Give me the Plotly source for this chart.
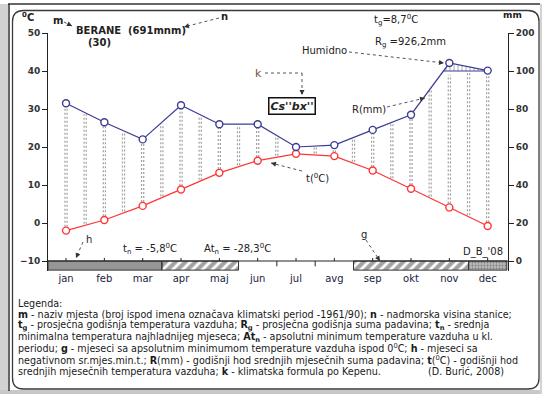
import plotly.graph_objects as go

# ---------------- data ----------------
months = ['jan', 'feb', 'mar', 'apr', 'maj', 'jun', 'jul', 'avg', 'sep', 'okt', 'nov', 'dec']
temp_c = [-2.0, 0.8, 4.5, 8.8, 13.2, 16.4, 18.2, 17.6, 13.8, 9.0, 4.1, -0.8]
precip_mm = [83, 73, 64, 82, 72, 72, 60, 61, 69, 77, 121, 101]
frost_band = ['h', 'h', 'h', 'g', 'g', '', '', '', 'g', 'g', 'g', 'h2']
left_ticks = [-10, 0, 10, 20, 30, 40, 50]
right_tick_text = ['0', '20', '40', '60', '80', '100', '200']

# ---------------- geometry ----------------
W, H = 542, 394
L, R, T, B = 48, 34, 33, 123
PW = W - L - R
PH = H - T - B
XR = [-0.47, 11.53]
YR = [-12.63, 50]
FONT = "DejaVu Sans"
DARK = "#222222"


def px(x):
    return (x - L) / PW


def py(y):
    return (H - B - y) / PH


def mm_to_t(v):
    # Walter-Lieth scale: 20 mm per 10 degC up to 100 mm, compressed above
    return v / 2 - 10 if v <= 100 else 40 + (v - 100) / 10


def interp(arr, x):
    i = int(x)
    f = x - i
    if i >= len(arr) - 1:
        return arr[-1]
    return arr[i] * (1 - f) + arr[i + 1] * f


n = len(months)
xi = list(range(n))
prec_t = [mm_to_t(v) for v in precip_mm]

fig = go.Figure()

# humid-period vertical dotted lines (derived from the two curves)
for off in (-0.028, 0.028):
    vx, vy = [], []
    for k in range(2 * (n - 1) + 1):
        x = k / 2
        lo = interp(temp_c, x)
        hi = min(interp(prec_t, x), 40)
        g = 1.0 if k % 2 == 0 else 0.4
        if hi - g > lo + g:
            vx += [x + off, x + off, None]
            vy += [lo + g, hi - g, None]
    fig.add_trace(go.Scatter(x=vx, y=vy, mode='lines', hoverinfo='skip',
                             line=dict(color='#a0a0a0', width=1.2, dash='2px,2px'),
                             showlegend=False))

# perhumid part (> 100 mm)
i_c = next(i for i in range(n - 1) if prec_t[i] <= 40 < prec_t[i + 1])
x_c = i_c + (40 - prec_t[i_c]) / (prec_t[i_c + 1] - prec_t[i_c])
poly_x = [x_c] + [i for i in xi if i > x_c] + [xi[-1], x_c]
poly_y = [40] + [prec_t[i] for i in xi if i > x_c] + [40, 40]
fig.add_trace(go.Scatter(x=poly_x, y=poly_y, mode='lines', fill='toself',
                         fillcolor='rgba(0,0,0,0)',
                         fillpattern=dict(shape='|', fgcolor='#555555', size=4, solidity=0.25),
                         line=dict(width=0), hoverinfo='skip', showlegend=False))
fig.add_trace(go.Scatter(x=[x_c, xi[-1]], y=[40, 40], mode='lines', hoverinfo='skip',
                         line=dict(color='#3c3c96', width=1), showlegend=False))

# frost band under the axis
b_x = [i for i, c in enumerate(frost_band) if c]
col = {'h': '#969696', 'g': 'white', 'h2': '#b8b8b8'}
pat = {'h': '', 'g': '/', 'h2': '.'}
fg = {'h': '#969696', 'g': '#000000', 'h2': '#8a8a8a'}
fig.add_trace(go.Bar(
    x=b_x, y=[2.4] * len(b_x), base=-12.4, width=1,
    marker=dict(color=[col[frost_band[i]] for i in b_x],
                line=dict(width=0),
                pattern=dict(shape=[pat[frost_band[i]] for i in b_x],
                             fgcolor=[fg[frost_band[i]] for i in b_x],
                             bgcolor=[col[frost_band[i]] for i in b_x],
                             size=[7 if frost_band[i] == 'g' else 3 for i in b_x],
                             solidity=[0.6 if frost_band[i] == 'g' else 0.3 for i in b_x])),
    hoverinfo='skip', showlegend=False))

# curves
fig.add_trace(go.Scatter(x=xi, y=temp_c, mode='lines+markers', showlegend=False,
                         line=dict(color='#ff3535', width=1.2),
                         marker=dict(symbol='circle', size=7, color='white',
                                     line=dict(color='#ff3535', width=1.4))))
fig.add_trace(go.Scatter(x=xi, y=prec_t, yaxis='y2', mode='lines+markers', showlegend=False,
                         line=dict(color='#3c3c96', width=1.2),
                         marker=dict(symbol='circle', size=7, color='white',
                                     line=dict(color='#3c3c96', width=1.4))))

shapes = []
# band outlines per contiguous group
start = None
for i in range(n + 1):
    c = frost_band[i] if i < n else ''
    if start is not None and (i == n or c != frost_band[start]):
        shapes.append(dict(type='rect', xref='x', yref='y', x0=max(start - 0.5, XR[0]), x1=i - 0.5,
                           y0=-12.4, y1=-10, line=dict(color='#333333', width=1)))
        start = None
    if start is None and c:
        start = i
# -10 axis line and ticks
shapes.append(dict(type='line', xref='paper', yref='y', x0=0, x1=1, y0=-10, y1=-10,
                   line=dict(color=DARK, width=1.2)))
for i in xi:
    shapes.append(dict(type='line', xref='x', yref='y', x0=i, x1=i, y0=-10, y1=-9.2,
                       line=dict(color=DARK, width=1)))
    if i < n - 1:
        shapes.append(dict(type='line', xref='x', yref='y', x0=i + 0.5, x1=i + 0.5, y0=-10, y1=-11.4,
                           line=dict(color=DARK, width=1), layer='below'))

# frame
def prect(x0, y0, x1, y1, fill):
    return dict(type='rect', xref='paper', yref='paper', x0=px(x0), x1=px(x1), y0=py(y1), y1=py(y0),
                fillcolor=fill, line=dict(width=0), layer='below')


shapes += [prect(0, 4, 8, 394, '#d2d2d2'), prect(0, 390, 542, 394, '#c8c8c8'),
           prect(540, 4, 542, 394, '#d2d2d2')]
shapes.append(dict(type='line', xref='paper', yref='paper', x0=px(8), x1=px(540), y0=py(4), y1=py(4),
                   line=dict(color='#333333', width=1.5)))
shapes.append(dict(type='line', xref='paper', yref='paper', x0=px(9), x1=px(9), y0=py(4), y1=py(391),
                   line=dict(color='#333333', width=1.5)))
x0r, y0r, x1r, y1r, rr = 12.5, 10.5, 539, 389, 11


def P(x, y):
    return f"{px(x):.5f},{py(y):.5f}"


path = (f"M{P(x0r + rr, y0r)} L{P(x1r - rr, y0r)} Q{P(x1r, y0r)} {P(x1r, y0r + rr)} "
        f"L{P(x1r, y1r - rr)} Q{P(x1r, y1r)} {P(x1r - rr, y1r)} L{P(x0r + rr, y1r)} "
        f"Q{P(x0r, y1r)} {P(x0r, y1r - rr)} L{P(x0r, y0r + rr)} Q{P(x0r, y0r)} {P(x0r + rr, y0r)} Z")
shapes.append(dict(type='path', xref='paper', yref='paper', path=path,
                   line=dict(color='#3a3a3a', width=1.3), layer='below'))

annotations = []


def ann(text, x, y, size=10, bold=False, xanchor='center', color=DARK, **kw):
    annotations.append(dict(text=text, x=px(x), y=py(y), xref='paper', yref='paper',
                            xanchor=xanchor, yanchor='middle', showarrow=False,
                            font=dict(family=FONT, size=size, color=color,
                                      weight=700 if bold else 400), **kw))


def darrow(pts, color='#555555'):
    for (a, b), (c, d) in zip(pts[:-1], pts[1:]):
        shapes.append(dict(type='line', xref='paper', yref='paper', x0=px(a), y0=py(b), x1=px(c), y1=py(d),
                           line=dict(color=color, width=1, dash='dot')))
    (a, b), (c, d) = pts[-2], pts[-1]
    ln = ((a - c) ** 2 + (b - d) ** 2) ** 0.5
    annotations.append(dict(text='', x=px(c), y=py(d), xref='paper', yref='paper', showarrow=True,
                            ax=(a - c) / ln * 6, ay=(b - d) / ln * 6, arrowhead=2, arrowsize=1,
                            arrowwidth=1, arrowcolor='#333333', standoff=0))


ann('<sup>0</sup>C', 28, 17, 10, True)
ann('mm', 512, 15, 9, True)
ann('m', 58, 21, 10, True)
ann('BERANE', 98, 30, 10, True)
ann('(30)', 99, 43, 10, True)
ann('(691mnm)', 157, 30, 10, True)
ann('n', 224, 16, 10, True)
ann('t<sub>g</sub>=8,7<sup>0</sup>C', 396, 20, 10)
ann('R<sub>g</sub> =926,2mm', 410, 43, 10)
ann('Humidno', 324, 51, 10)
ann('k', 258, 73, 11, color='#7a5230')
ann("<b><i>Cs''bx''</i></b>", 292, 106, 11, bordercolor='#111111', borderwidth=1.5,
    borderpad=1, bgcolor='white')
ann('R(mm)', 369, 109, 10)
ann('t(<sup>0</sup>C)', 317, 178, 10)
ann('h', 89, 239, 10)
ann('t<sub>n</sub> = -5,8<sup>0</sup>C', 150, 249, 10)
ann('At<sub>n</sub> = -28,3<sup>0</sup>C', 237, 249, 10)
ann('g', 364, 234, 10)
ann("D_B_'08", 483, 252, 10)

darrow([(64, 22), (72, 26)])
darrow([(219, 18), (184, 27)])
darrow([(265, 73), (302, 73), (302, 95)])
darrow([(349, 52), (444, 63)])
darrow([(387, 107), (425, 98)])
darrow([(302, 171), (271, 163)])
darrow([(83, 242), (76, 258)])
darrow([(366, 240), (380, 261)])

legend_lines = [
    "Legenda:",
    "<b>m</b> - naziv mjesta (broj ispod imena označava klimatski period -1961/90); <b>n</b> - nadmorska visina stanice;",
    "<b>t<sub>g</sub></b> - prosječna godišnja temperatura vazduha; <b>R<sub>g</sub></b> - prosječna godišnja suma padavina; <b>t<sub>n</sub></b> - srednja",
    "minimalna temperatura najhladnijeg mjeseca; <b>At<sub>n</sub></b> - apsolutni minimum temperature vazduha u kl.",
    "periodu; <b>g</b> - mjeseci sa apsolutnim minimumom temperature vazduha ispod 0<sup>0</sup>C; <b>h</b> - mjeseci sa",
    "negativnom sr.mjes.min.t.; <b>R</b>(mm) - godišnji hod srednjih mjesečnih suma padavina; <b>t</b>(<sup>0</sup>C) - godišnji hod",
    "srednjih mjesečnih temperatura vazduha; <b>k</b> - klimatska formula po Kepenu.",
]
for j, line in enumerate(legend_lines):
    ann(line, 16, 303 + j * 11.35, 9.6, xanchor='left', color='#1a1a1a')
ann('(D. Burić, 2008)', 506, 303 + 6 * 11.35, 9.6, xanchor='right', color='#1a1a1a')

axis_common = dict(range=YR, tickvals=left_ticks, ticks='outside', ticklen=5, tickcolor=DARK,
                   showline=True, linecolor=DARK, linewidth=1, showgrid=False, zeroline=False,
                   automargin=False,
                   tickfont=dict(family=FONT, size=9, color='#333333', weight=700))

fig.update_layout(
    width=W, height=H, margin=dict(l=L, r=R, t=T, b=B, pad=0, autoexpand=False),
    paper_bgcolor='white', plot_bgcolor='rgba(0,0,0,0)',
    showlegend=False, bargap=0,
    xaxis=dict(range=XR, tickvals=xi, ticktext=months, ticks='', showline=False, showgrid=False,
               zeroline=False, automargin=False,
               tickfont=dict(family=FONT, size=10, color='#1c1c3c')),
    yaxis=dict(**axis_common),
    yaxis2=dict(**axis_common, overlaying='y', side='right', ticktext=right_tick_text),
    shapes=shapes, annotations=annotations,
)

fig.write_html("out.html", config={'displayModeBar': False},
               post_script="document.body.style.margin='0';document.body.style.overflow='hidden';")
